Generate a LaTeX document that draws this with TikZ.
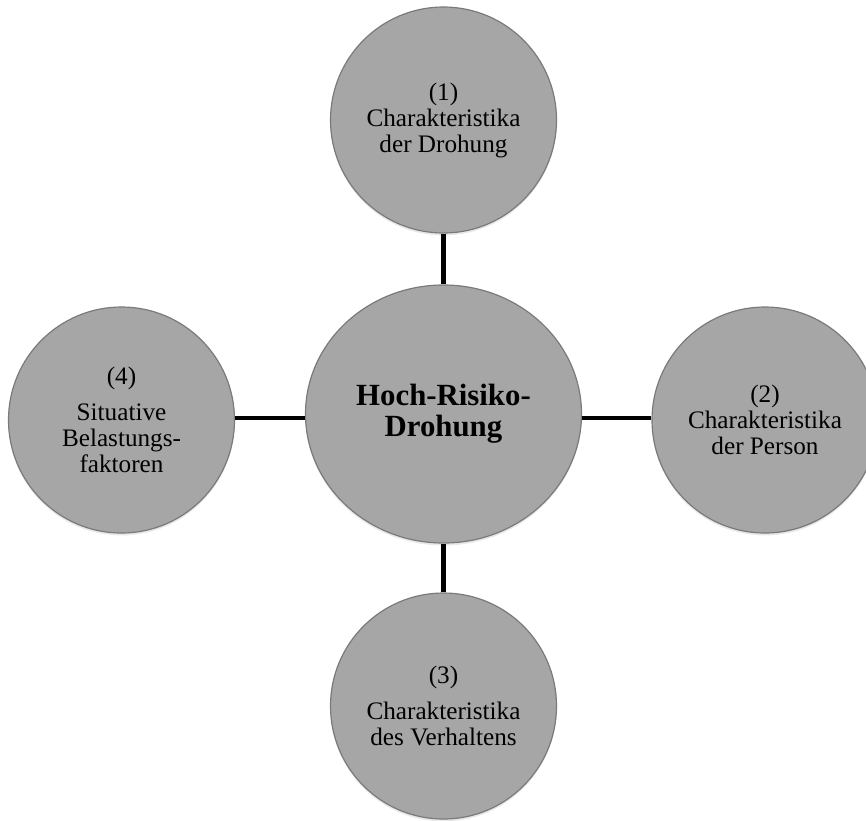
\documentclass[tikz,border=0pt]{standalone}
\usepackage{fontspec}
\setmainfont{Liberation Serif}
\usetikzlibrary{shapes.geometric,shadows}
\definecolor{bubblefill}{HTML}{A6A6A6}
\definecolor{bubbleline}{HTML}{7A7A7A}
\begin{document}
\begin{tikzpicture}[x=0.5pt,y=-0.5pt,
  bubble/.style={circle,fill=bubblefill,draw=bubbleline,line width=0.6pt,
    minimum size=113pt,inner sep=0pt,align=center,
    font=\fontsize{12.6}{13}\selectfont,
    drop shadow={opacity=0.18,shadow xshift=0pt,shadow yshift=-1.2pt}},
  hub/.style={ellipse,fill=bubblefill,draw=bubbleline,line width=0.6pt,
    minimum width=138pt,minimum height=129pt,inner sep=0pt,align=center,
    font=\fontsize{15.4}{15.6}\selectfont\bfseries,
    drop shadow={opacity=0.18,shadow xshift=0pt,shadow yshift=-1.2pt}},
  link/.style={line width=2.4pt,black}]
\useasboundingbox (0,0) rectangle (866,820);
\node[hub] (center) at (443.5,414) {Hoch-Risiko-\\Drohung};
\node[bubble] (top) at (443.5,120) {(1)\\Charakteristika\\der Drohung};
\node[bubble] (left) at (121.5,420) {(4)\\[5pt]Situative\\Belastungs-\\faktoren};
\node[bubble] (right) at (765,420) {(2)\\Charakteristika\\der Person};
\node[bubble] (bottom) at (443.5,706) {(3)\\[5pt]Charakteristika\\des Verhaltens};
\coordinate (lj) at (0,418);
\draw[link] (left.east |- lj) -- (center.west |- lj);
\draw[link] (center.east |- lj) -- (right.west |- lj);
\draw[link] (top.south) -- (center.north);
\draw[link] (center.south) -- (bottom.north);
\end{tikzpicture}
\end{document}
